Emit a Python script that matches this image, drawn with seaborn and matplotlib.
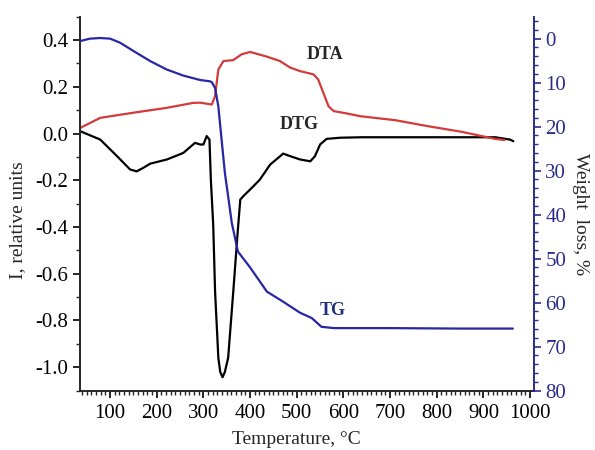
import numpy as np
import pandas as pd
import seaborn as sns
import matplotlib.pyplot as plt
from matplotlib.ticker import MultipleLocator

# temperature (°C) and signal values
tg_temp = [36, 57, 79, 100, 121, 150, 186, 221, 257, 293, 314, 318, 325, 332, 339, 346, 361, 374, 400, 436, 471, 507,
           532, 553, 580, 700, 850, 963]
tg_loss = [0.55, 0.0, -0.14, 0.0, 0.9, 2.8, 5.1, 7.0, 8.4, 9.4, 9.7, 9.9, 11.2, 15.4, 23.0, 30.5, 42.0, 48.4, 52.0, 57.5,
           59.8, 62.3, 63.5, 65.5, 65.8, 65.8, 65.9, 65.9]

dta_temp = [36, 79, 150, 222, 278, 293, 318, 325, 332, 343, 364, 382, 400, 418, 436, 464, 486, 507, 536, 546, 557, 568,
            579, 607, 636, 711, 782, 854, 925, 945]
dta_val = [0.024, 0.067, 0.089, 0.11, 0.131, 0.132, 0.124, 0.16, 0.274, 0.31, 0.314, 0.339, 0.349, 0.339, 0.329, 0.31,
           0.282, 0.267, 0.253, 0.231, 0.174, 0.117, 0.096, 0.086, 0.074, 0.057, 0.031, 0.007, -0.023, -0.028]

dtg_temp = [36, 79, 115, 143, 157, 171, 186, 222, 257, 282, 293, 300, 307, 313, 316, 321, 325, 332, 336, 341, 346, 353,
            364, 373, 379, 385, 407, 421, 443, 471, 486, 507, 529, 539, 550, 564, 593, 640, 782, 925, 957, 964]
dtg_val = [0.01, -0.026, -0.097, -0.154, -0.162, -0.147, -0.129, -0.111, -0.083, -0.04, -0.047, -0.047, -0.011, -0.026,
           -0.2, -0.39, -0.676, -0.96, -1.02, -1.043, -1.02, -0.96, -0.676, -0.433, -0.283, -0.269, -0.226, -0.197,
           -0.133, -0.086, -0.097, -0.111, -0.119, -0.097, -0.047, -0.023, -0.018, -0.016, -0.016, -0.016, -0.026, -0.033]

d_tg = pd.DataFrame({'T': tg_temp, 'val': tg_loss})
d_dta = pd.DataFrame({'T': dta_temp, 'val': dta_val})
d_dtg = pd.DataFrame({'T': dtg_temp, 'val': dtg_val})

sns.set_style('ticks')
plt.rcParams['font.family'] = ['Liberation Serif', 'DejaVu Serif']

navy = '#2b2b8c'
blue = '#2626a6'
red = '#d33a3a'

fig = plt.figure(figsize=(5.95, 4.5), dpi=100)
ax = fig.add_axes([0.134, 0.132, 0.764, 0.831])
ax2 = ax.twinx()

sns.lineplot(ax=ax, data=d_dtg, x='T', y='val', color='black', lw=1.6, estimator=None, sort=False)
sns.lineplot(ax=ax, data=d_dta, x='T', y='val', color=red, lw=1.6, estimator=None, sort=False)
sns.lineplot(ax=ax2, data=d_tg, x='T', y='val', color=blue, lw=1.6, estimator=None, sort=False)

ax.set_xlim(35, 1009)
ax.set_ylim(-1.1, 0.5)
ax2.set_ylim(80, -5)

ax.set_xticks([100, 200, 300, 400, 500, 600, 700, 800, 900, 1000])
ax.xaxis.set_minor_locator(MultipleLocator(10))
ax.set_yticks([-1.0, -0.8, -0.6, -0.4, -0.2, 0.0, 0.2, 0.4])
ax.set_yticklabels(['-1.0', '-0.8', '-0.6', '-0.4', '-0.2', '0.0', '0.2', '0.4'])
ax.yaxis.set_minor_locator(MultipleLocator(0.1))
ax2.set_yticks(range(0, 81, 10))
ax2.yaxis.set_minor_locator(MultipleLocator(2))

for a in (ax, ax2):
    a.set_xlabel('')
    a.set_ylabel('')
    a.spines['top'].set_visible(False)
ax.spines['right'].set_visible(False)
ax2.spines['left'].set_visible(False)
ax2.spines['bottom'].set_visible(False)
ax.spines['left'].set_linewidth(1.4)
ax.spines['bottom'].set_linewidth(1.4)
ax2.spines['right'].set_color(navy)
ax2.spines['right'].set_linewidth(1.4)

ax.tick_params(axis='both', which='major', direction='out', length=5, width=1.2, labelsize=15, pad=3, colors='black')
ax.tick_params(axis='both', which='minor', direction='out', length=3, width=1.0)
ax.tick_params(axis='x', which='major', pad=5)
ax2.tick_params(axis='y', which='major', direction='out', length=5, width=1.2, labelsize=15, pad=3,
                colors=navy)
ax2.tick_params(axis='y', which='minor', direction='out', length=3, width=1.0, colors=navy)

ax.text(521, 0.339, 'DTA', fontsize=13, fontweight='bold', ha='left', va='center')
ax.text(464, 0.037, 'DTG', fontsize=13, fontweight='bold', ha='left', va='center')
ax2.text(550, 61.7, 'TG', fontsize=13, fontweight='bold', color='#1f2f7f', ha='left', va='center')

fig.text(0.03, 0.51, 'I, relative units', fontsize=14, rotation=90, ha='center', va='center')
fig.text(0.975, 0.525, 'Weight  loss, %', fontsize=14, rotation=270, ha='center', va='center')
fig.text(0.498, 0.024, 'Temperature, \u00b0C', fontsize=14, ha='center', va='center')

fig.savefig('out.png', dpi=100)
